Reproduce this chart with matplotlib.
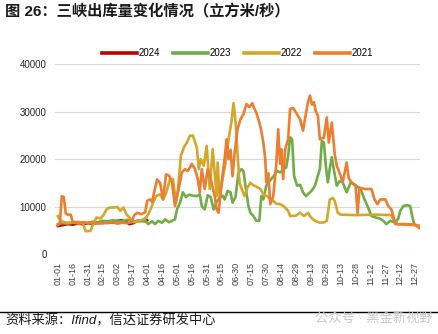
import numpy as np
import matplotlib
matplotlib.use("Agg")
import matplotlib.pyplot as plt

plt.rcParams["font.family"] = ["Liberation Sans", "Noto Sans CJK SC", "DejaVu Sans"]

# 日序号（0 = 01-01），出库流量 立方米/秒
days_2024 = [0, 5, 10, 15, 20, 25, 30, 35, 40, 45, 50, 55, 60, 64, 68, 72, 76, 80, 84, 88, 90]
flow_2024 = [5900, 6100, 6300, 6200, 6400, 6300, 6500, 6400, 6600, 6500, 6700, 6600,
             7000, 7100, 6900, 6300, 6500, 7000, 7000, 6900, 7100]

days_2023 = [0, 5, 10, 15, 20, 25, 30, 35, 40, 45, 50, 55, 60, 65, 70, 75, 80, 85, 88,
             91, 95, 98, 101, 105, 108, 112, 115, 118, 120, 123, 126, 129, 132, 136, 140,
             143, 145, 148, 151, 154, 157, 160, 163, 166, 168, 171, 174, 176, 179, 182,
             185, 187, 189, 192, 194, 197, 200, 203, 205, 207, 210, 212, 215, 218, 221,
             224, 227, 230, 232, 234, 236, 238, 241, 244, 247, 250, 253, 256, 259, 262,
             264, 266, 268, 270, 272, 274, 276, 278, 281, 284, 287, 291, 295, 300, 305,
             309, 312, 316, 320, 324, 328, 331, 335, 340, 343, 345, 348, 352, 355, 357,
             359, 364]
flow_2023 = [6300, 6500, 6400, 6600, 6500, 6700, 6600, 6800, 6700, 7000, 6900, 7100, 7000,
             6900, 7200, 7000, 6800, 7000, 7000, 6300, 6900, 6300, 7000, 6600, 7300, 6700,
             7000, 7300, 9400, 10800, 13000, 12000, 12500, 12300, 12200, 12600, 10100,
             9400, 12400, 12000, 9400, 11000, 11900, 12300, 11500, 13300, 13000, 10800,
             12000, 17200, 17900, 17500, 14400, 10100, 8700, 8000, 7000, 7000, 12200, 11500,
             14400, 15000, 15800, 16600, 17500, 17200, 17800, 18200, 20700, 24600, 24200,
             16500, 14400, 14600, 13000, 12200, 12800, 13400, 14400, 16500, 17900, 23800,
             23500, 18600, 15100, 18000, 20400, 17900, 14400, 15400, 15100, 13000, 15100,
             14500, 13700, 11500, 10100, 8000, 7700, 7500, 7000, 6300, 7000, 6600, 7500,
             9100, 10100, 10300, 10100, 8000, 6300, 5800]

days_2022 = [0, 3, 6, 10, 15, 20, 25, 28, 33, 36, 39, 43, 46, 49, 52, 56, 60, 63, 66, 69,
             72, 76, 80, 85, 89, 92, 96, 99, 103, 106, 109, 113, 116, 119, 121, 124, 127,
             130, 133, 136, 140, 142, 144, 147, 150, 153, 156, 160, 161, 163, 166, 169,
             172, 175, 177, 179, 181, 183, 188, 191, 194, 197, 200, 204, 207, 211, 214,
             217, 220, 224, 228, 232, 234, 240, 244, 248, 252, 255, 259, 264, 269, 271,
             274, 277, 279, 282, 285, 300, 320, 336, 338, 342, 364]
flow_2022 = [8000, 7000, 6700, 6600, 6700, 6800, 6600, 4800, 4900, 6500, 7700, 7500, 8200,
             9400, 9800, 9800, 9900, 9100, 9800, 8400, 7700, 6700, 6900, 7200, 7700, 8700,
             10800, 12200, 12600, 11500, 12800, 15800, 15800, 10800, 13700, 20700, 22500,
             23500, 24900, 25000, 22500, 17900, 20000, 18600, 22800, 13700, 22100, 12200,
             19300, 12200, 15800, 19300, 24200, 28000, 31800, 28000, 21400, 15000, 12200,
             14000, 15000, 14500, 14200, 13700, 12600, 12200, 11500, 11200, 10600, 10500,
             10000, 9100, 8000, 8100, 8700, 8000, 8700, 7700, 7000, 6600, 6700, 7000, 11500,
             11800, 11200, 8700, 8300, 8200, 8300, 8200, 7300, 6300, 6000]

days_2021 = [0, 2, 4, 6, 8, 10, 13, 15, 18, 22, 26, 30, 35, 40, 45, 50, 55, 60, 65, 70,
             74, 77, 80, 84, 88, 90, 93, 95, 97, 100, 103, 106, 109, 112, 115, 118, 121,
             125, 128, 131, 135, 138, 141, 143, 145, 148, 151, 154, 158, 160, 162, 165,
             168, 170, 172, 174, 176, 178, 181, 184, 187, 190, 193, 196, 198, 200, 203,
             205, 207, 209, 210, 212, 214, 217, 220, 222, 224, 225, 227, 229, 232, 234,
             237, 240, 244, 247, 249, 252, 254, 256, 258, 260, 262, 264, 268, 271, 273,
             276, 279, 281, 284, 287, 291, 293, 296, 300, 302, 304, 309, 316, 319, 322,
             325, 330, 333, 336, 338, 340, 350, 360, 364]
flow_2021 = [6100, 6500, 12200, 12000, 8500, 8300, 8300, 6700, 6600, 6400, 6700, 6500, 6600,
             6400, 6600, 6500, 6700, 6400, 6600, 6500, 6700, 8200, 8700, 8400, 8800, 11200,
             11500, 11000, 13000, 15700, 15000, 11500, 16800, 16500, 15100, 10100, 13000,
             17200, 17900, 17500, 19000, 18000, 15800, 13000, 17900, 13700, 17900, 15800,
             12200, 9400, 8700, 15000, 20000, 24200, 20000, 22000, 16400, 21000, 26300,
             28400, 29500, 31600, 31000, 31800, 30600, 29800, 27700, 26000, 23500, 20000,
             15100, 17000, 10500, 12200, 18600, 26300, 19000, 22100, 15800, 22000, 24200,
             30600, 30800, 29800, 28400, 26000, 28500, 32000, 33400, 31500, 32000, 30000,
             29200, 24200, 24500, 28800, 23500, 27700, 21000, 18600, 17000, 15100, 19300,
             16000, 15100, 14400, 8600, 14000, 13700, 13700, 11500, 10500, 11500, 11500,
             10100, 9400, 8000, 6300, 6300, 6200, 5500]

years = ["2024", "2023", "2022", "2021"]
colors = ["#C00000", "#70AD47", "#D2A82A", "#ED7D31"]
series = [(days_2024, flow_2024), (days_2023, flow_2023),
          (days_2022, flow_2022), (days_2021, flow_2021)]

tick_days = list(range(0, 365, 15))
tick_labels = ["01-01", "01-16", "01-31", "02-15", "03-02", "03-17", "04-01", "04-16",
               "05-01", "05-16", "05-31", "06-15", "06-30", "07-15", "07-30", "08-14",
               "08-29", "09-13", "09-28", "10-13", "10-28", "11-12", "11-27", "12-12",
               "12-27"]

fig = plt.figure(figsize=(4.39, 3.34), dpi=100)
ax = fig.add_axes([0.125, 0.2395, 0.832, 0.568])

for (d, v), yr, c in zip(series, years, colors):
    ax.plot(d, v, color=c, lw=1.9, label=yr, solid_joinstyle="round")

ax.set_xlim(-3, 365)
ax.set_ylim(0, 40000)
ax.set_yticks([0, 10000, 20000, 30000, 40000])
ax.set_xticks(tick_days)
ax.set_xticklabels(tick_labels, rotation=90, fontsize=6.5, color="#404040")
ax.tick_params(axis="y", labelsize=7, length=0, pad=6, labelcolor="#262626")
ax.tick_params(axis="x", length=0, pad=6)
ax.grid(axis="y", color="#d9d9d9", lw=0.8)
ax.set_axisbelow(True)
for s in ax.spines.values():
    s.set_visible(False)

leg = ax.legend(loc="center", bbox_to_anchor=(0.5, 1.06), ncol=4, frameon=False,
                fontsize=7, handlelength=3.6, handletextpad=0.2, columnspacing=1.3)
for h in leg.get_lines():
    h.set_linewidth(2.6)

fig.text(0.012, 0.963, "图 26：三峡出库量变化情况（立方米/秒）", fontsize=11,
         fontweight="bold", color="#1a1a1a", va="center", ha="left")

fig.add_artist(plt.Line2D([0, 1], [0.067, 0.067], color="black", lw=1.0))
fig.text(0.012, 0.038, "资料来源：Ifind，信达证券研发中心", fontsize=9.5,
         style="italic", color="#1a1a1a", va="center", ha="left")
fig.text(0.985, 0.048, "公众号 · 黑金新视野", fontsize=9.5, color="#c8c8c8",
         va="center", ha="right")

fig.savefig("out.png", dpi=100)
